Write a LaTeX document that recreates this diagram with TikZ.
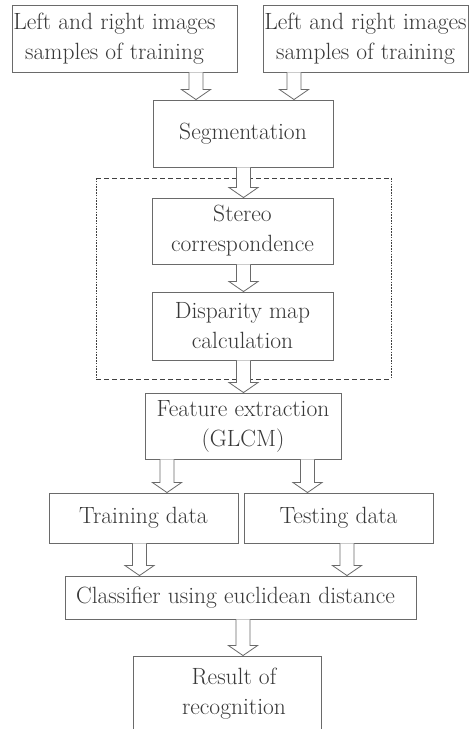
\documentclass[tikz,border=0pt]{standalone}
\usetikzlibrary{calc}
\definecolor{linec}{HTML}{6A6A6A}
\definecolor{textc}{HTML}{383838}
\tikzset{
  box/.style={draw=linec, line width=0.9pt, fill=white, inner sep=0pt, align=center,
    text=textc, font=\fontsize{23.5}{30}\selectfont},
  arrline/.style={draw=linec, line width=0.8pt, fill=white, line join=miter},
  dashh/.style={draw=black!75, line width=0.9pt, dash pattern=on 5pt off 3pt},
  dashv/.style={draw=black!75, line width=0.9pt, dash pattern=on 1.6pt off 1.2pt}
}
% #1 from node, #2 to node, #3 x position (pt)
\newcommand\blockarrow[3]{%
  \path[arrline] let \p1=(#1.south), \p2=(#2.north) in
    ({#3pt-7pt},\y1) -- ({#3pt-7pt},\y2+10pt) -- ({#3pt-14.5pt},\y2+10pt) --
    ({#3pt},\y2) -- ({#3pt+14.5pt},\y2+10pt) -- ({#3pt+7pt},\y2+10pt) --
    ({#3pt+7pt},\y1);%
}
\begin{document}
\begin{tikzpicture}[x=1pt,y=-1pt]
\useasboundingbox (0,0) rectangle (469,729);
\fill[white] (0,0) rectangle (469,729);
% dashed group frame
\coordinate (dtl) at (96,178);
\coordinate (dbr) at (391,379);
\draw[dashh] (dtl) -- (dtl -| dbr);
\draw[dashh] (dtl |- dbr) -- (dbr);
\draw[dashv] (dtl) -- (dtl |- dbr);
\draw[dashv] (dtl -| dbr) -- (dbr);
% boxes
\node[box, minimum width=225pt, minimum height=67pt] (in1) at (124.5,38.5)
  {Left and right images\hspace*{20pt}\\samples of training\hspace*{20pt}};
\node[box, minimum width=205pt, minimum height=67pt] (in2) at (365.5,38.5)
  {Left and right images\\samples of training};
\node[box, minimum width=180pt, minimum height=67pt] (seg) at (243,133.5) {Segmentation};
\node[box, minimum width=181pt, minimum height=66pt] (stereo) at (242.5,231) {Stereo\\correspondence};
\node[box, minimum width=181pt, minimum height=68pt] (disp) at (242.5,326) {Disparity map\\calculation};
\node[box, minimum width=196pt, minimum height=66pt] (feat) at (243,426) {Feature extraction\\(GLCM)};
\node[box, minimum width=189pt, minimum height=50pt] (train) at (143.5,518) {Training data};
\node[box, minimum width=189pt, minimum height=50pt] (test) at (338.5,518) {Testing data};
\node[box, minimum width=351pt, minimum height=43pt] (cls) at (240.5,597.5) {Classifier using euclidean distance\hspace*{10pt}};
\node[box, minimum width=188pt, minimum height=76pt] (res) at (227,694) {\hspace*{14pt}Result of\\\hspace*{14pt}recognition};
% hollow block arrows
\blockarrow{in1}{seg}{196}
\blockarrow{in2}{seg}{294}
\blockarrow{seg}{stereo}{243.5}
\blockarrow{stereo}{disp}{243.5}
\blockarrow{disp}{feat}{243.5}
\blockarrow{feat}{train}{167}
\blockarrow{feat}{test}{307.5}
\blockarrow{train}{cls}{139.5}
\blockarrow{test}{cls}{347}
\blockarrow{cls}{res}{243}
\end{tikzpicture}
\end{document}
